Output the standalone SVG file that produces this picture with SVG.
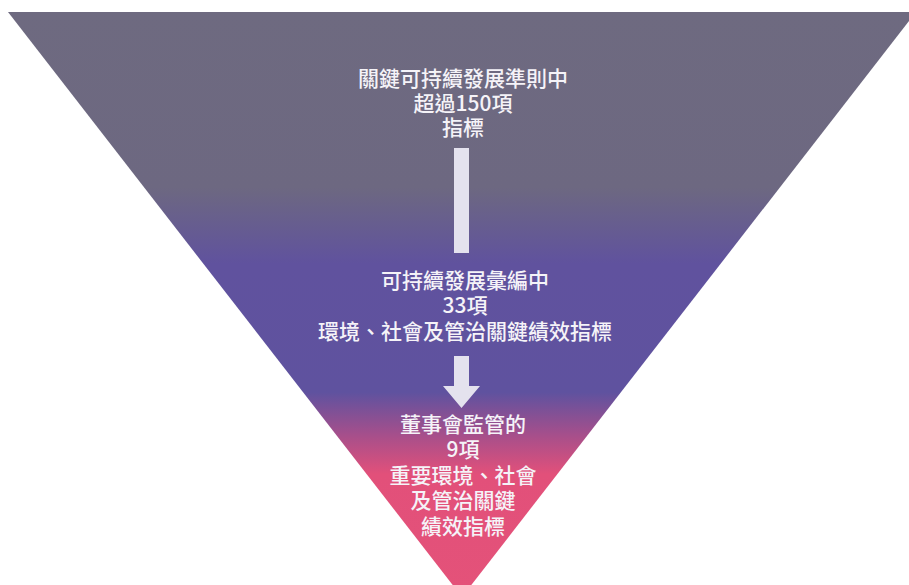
<svg xmlns="http://www.w3.org/2000/svg" width="909" height="585" viewBox="0 0 909 585">
  <defs>
    <linearGradient id="funnelGrad" gradientUnits="userSpaceOnUse" x1="0" y1="12" x2="0" y2="597">
      <stop offset="0" stop-color="#6e6a80"/>
      <stop offset="0.30" stop-color="#6d6881"/>
      <stop offset="0.43" stop-color="#60529e"/>
      <stop offset="0.65" stop-color="#5f529f"/>
      <stop offset="0.72" stop-color="#a34f8c"/>
      <stop offset="0.79" stop-color="#e2507a"/>
      <stop offset="1" stop-color="#e45279"/>
    </linearGradient>
    <style>
      .lbl { font-family: "Noto Sans CJK TC", "Noto Sans", "Liberation Sans", sans-serif; font-size: 21px; font-weight: 500; fill: #f5f3f8; text-anchor: middle; }
      .conn { fill: #e4e2ee; }
    </style>
  </defs>
  <rect x="0" y="0" width="909" height="585" fill="#ffffff"/>
  <g id="funnel">
    <polygon points="8,12 916,12 462,597" fill="url(#funnelGrad)"/>
  </g>
  <g id="connectors">
    <rect class="conn" x="454" y="148" width="15" height="105"/>
    <polygon class="conn" points="454,356 469,356 469,386 480,386 461.5,408 443,386 454,386"/>
  </g>
  <g id="node-top">
    <text class="lbl" x="463" y="86">關鍵可持續發展準則中</text>
    <text class="lbl" x="463" y="111">超過150項</text>
    <text class="lbl" x="463" y="135">指標</text>
  </g>
  <g id="node-middle">
    <text class="lbl" x="465" y="288">可持續發展彙編中</text>
    <text class="lbl" x="465" y="313">33項</text>
    <text class="lbl" x="465" y="339">環境、社會及管治關鍵績效指標</text>
  </g>
  <g id="node-bottom">
    <text class="lbl" x="463" y="432">董事會監管的</text>
    <text class="lbl" x="463" y="457">9項</text>
    <text class="lbl" x="463" y="483">重要環境、社會</text>
    <text class="lbl" x="463" y="508">及管治關鍵</text>
    <text class="lbl" x="463" y="534">績效指標</text>
  </g>
</svg>
